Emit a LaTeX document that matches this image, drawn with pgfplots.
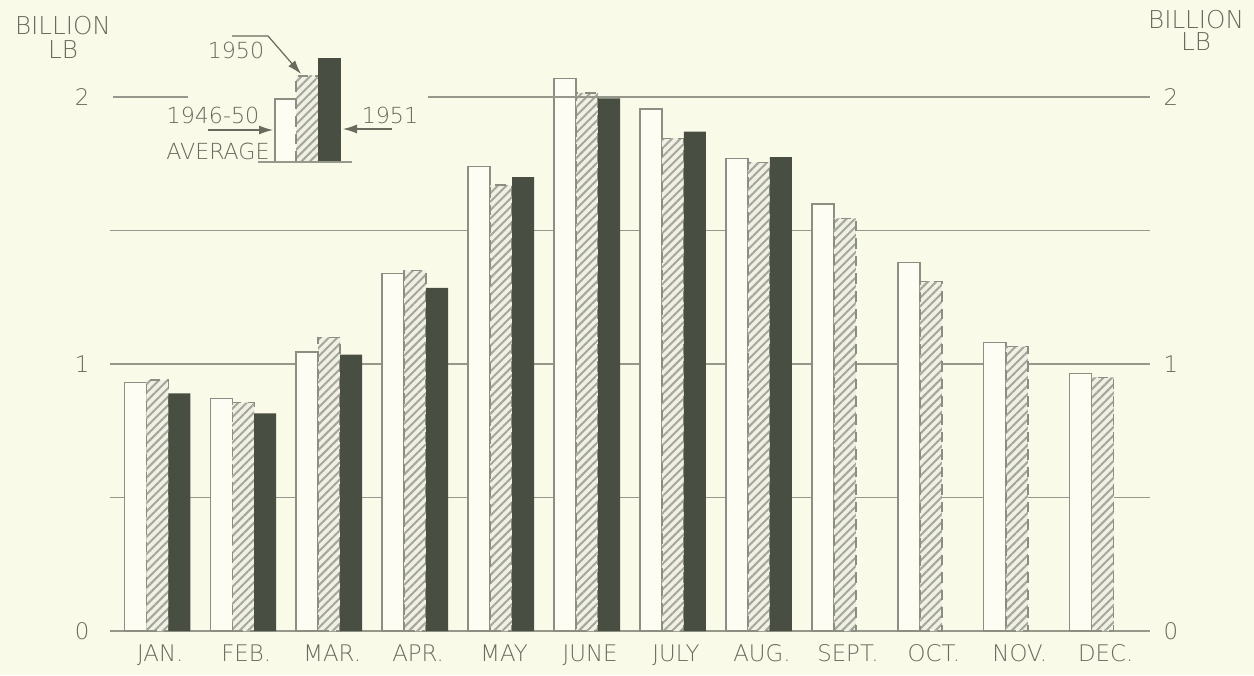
\documentclass[border=0pt]{standalone}
\usepackage{fontspec}
\usepackage{pgfplots}
\pgfplotsset{compat=1.18}
\usetikzlibrary{patterns.meta,arrows.meta}
\newfontfamily\lab{DejaVu Sans ExtraLight}
\definecolor{bg}{RGB}{250,250,232}
\definecolor{wbar}{RGB}{253,253,244}
\definecolor{dbar}{RGB}{72,78,66}
\definecolor{hfill}{RGB}{240,240,228}
\definecolor{hline}{RGB}{165,167,155}
\definecolor{gridc}{RGB}{150,152,140}
\definecolor{txt}{RGB}{105,107,95}
\definecolor{edge}{RGB}{140,142,130}
\tikzset{hatch/.style={fill=hfill, postaction={pattern={Lines[angle=45,distance=0.6mm,line width=0.2mm]}, pattern color=hline}}}
\newcommand{\lf}{\lab\fontsize{6.3}{7}\selectfont}
\begin{document}
\begin{tikzpicture}
\fill[bg] (-1.1cm,-0.44cm) rectangle ++(12.54cm,6.75cm);
\useasboundingbox (-1.1cm,-0.44cm) rectangle ++(12.54cm,6.75cm);
\begin{axis}[
  at={(0,0)}, anchor=south west,
  scale only axis, width=10.4cm, height=6.141cm,
  xmin=-0.55, xmax=11.55, ymin=0, ymax=2.3,
  axis x line*=bottom, axis y line*=left,
  y axis line style={draw=none},
  x axis line style={draw=gridc, line width=0.8pt},
  major tick length=0pt,
  xtick={0,...,11},
  xticklabels={JAN.,FEB.,MAR.,APR.,MAY,JUNE,JULY,AUG.,SEPT.,OCT.,NOV.,DEC.},
  ytick={0,1,2}, yticklabels={0,1,2},
  extra y ticks={0.5,1,1.5}, extra y tick labels={},
  extra y tick style={grid=major, major grid style={draw=gridc, line width=0.5pt}},
  xticklabel style={anchor=north, inner sep=0pt, yshift=-1.3mm, xshift=0.3mm},
  yticklabel style={anchor=east, inner sep=0pt, xshift=-2mm},
  ticklabel style={font=\lab\fontsize{6.5}{7}\selectfont, text=txt},
  clip=false,
  ybar, bar width=0.256,
]
\addplot[bar shift=-0.256, fill=wbar, draw=edge, line width=0.4pt] coordinates {
 (0,0.93) (1,0.87) (2,1.045) (3,1.34) (4,1.74) (5,2.07) (6,1.955) (7,1.77) (8,1.60) (9,1.38) (10,1.08) (11,0.965)};
\addplot[bar shift=0, hatch, draw=edge, densely dashed, line width=0.4pt] coordinates {
 (0,0.94) (1,0.855) (2,1.10) (3,1.35) (4,1.67) (5,2.015) (6,1.845) (7,1.755) (8,1.545) (9,1.31) (10,1.065) (11,0.95)};
\addplot[bar shift=0.256, fill=dbar, draw=none] coordinates {
 (0,0.89) (1,0.815) (2,1.035) (3,1.285) (4,1.70) (5,1.995) (6,1.87) (7,1.775)};
\addplot[sharp plot, draw=gridc, line width=0.5pt] coordinates {(-0.52,2) (0.36,2)};
\addplot[sharp plot, draw=gridc, line width=0.5pt] coordinates {(3.15,2) (11.55,2)};
\end{axis}
\begin{axis}[
  at={(0,0)}, anchor=south west,
  scale only axis, width=10.4cm, height=6.141cm,
  xmin=-0.55, xmax=11.55, ymin=0, ymax=2.3,
  hide x axis, axis y line*=right, y axis line style={draw=none},
  major tick length=0pt,
  ytick={0,1,2}, yticklabels={0,1,2},
  yticklabel style={anchor=west, inner sep=0pt, xshift=1.3mm, font=\lab\fontsize{6.5}{7}\selectfont, text=txt},
]
\addplot[draw=none, forget plot] coordinates {(0,0)};
\end{axis}
\begin{scope}[shift={(-1.1cm,6.31cm)}, x=0.1mm, y=-0.1mm, font=\lf, text=txt]
  \node[font=\lab\fontsize{7}{8}\selectfont] at (63,25.5) {BILLION};
  \node[font=\lab\fontsize{7}{8}\selectfont] at (63,50) {LB};
  \node[font=\lab\fontsize{7}{8}\selectfont] at (1196,20) {BILLION};
  \node[font=\lab\fontsize{7}{8}\selectfont] at (1196,42) {LB};
  % inset key
  \fill[wbar] (275,162) rectangle (296,99);
  \draw[edge, line width=0.4pt] (275,162) -- (275,99) -- (296,99);
  \path[hatch] (296,162) rectangle (318,76);
  \draw[edge, densely dashed, line width=0.4pt] (296,162) -- (296,76) -- (318,76);
  \fill[dbar] (318,162) rectangle (341,58);
  \draw[gridc, line width=0.8pt] (258,162) -- (352,162);
  \node at (236,50) {1950};
  \node at (213,115) {1946-50};
  \node at (218,151) {AVERAGE};
  \node at (390,115) {1951};
  \draw[txt, line width=0.35pt, -{Latex[length=1.4mm,width=0.9mm]}] (232,36) -- (268,36) -- (301,74);
  \draw[txt, line width=0.35pt, -{Latex[length=1.4mm,width=0.9mm]}] (208,130) -- (273,130);
  \draw[txt, line width=0.35pt, -{Latex[length=1.4mm,width=0.9mm]}] (392,129) -- (343,129);
\end{scope}
\end{tikzpicture}
\end{document}
